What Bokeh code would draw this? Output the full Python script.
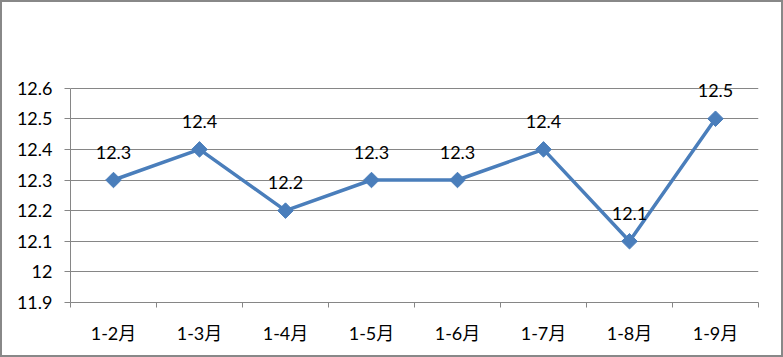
import math
from bokeh.plotting import figure
from bokeh.models import ColumnDataSource, FixedTicker, Range1d
from bokeh.core.properties import value
from bokeh.embed import file_html
from bokeh.resources import INLINE

categories = ["1-2月", "1-3月", "1-4月", "1-5月", "1-6月", "1-7月", "1-8月", "1-9月"]
values = [12.3, 12.4, 12.2, 12.3, 12.3, 12.4, 12.1, 12.5]
y_ticks = [11.9, 12.0, 12.1, 12.2, 12.3, 12.4, 12.5, 12.6]

FONT = "Lato, Noto Sans CJK SC"
LINE = "#4a7ebb"
GRID = "#868686"

xs = [i + 0.5 for i in range(len(categories))]
src = ColumnDataSource(dict(x=xs, y=values, label=[str(v) for v in values]))

# extra headroom above the top tick so the data labels are not clipped
p = figure(width=779, height=353, output_backend="svg", toolbar_location=None,
           x_range=Range1d(0, len(categories)), y_range=Range1d(y_ticks[0], 12.7),
           min_border_left=68, min_border_right=23, min_border_top=55, min_border_bottom=53)
p.frame_width = 688
p.frame_height = 245
p.outline_line_color = None
p.background_fill_color = "white"
p.border_fill_color = "white"
p.styles = {"border": "2px solid #888888"}

# x axis: labels at category centres, ticks at category boundaries
p.xaxis.ticker = FixedTicker(ticks=xs, minor_ticks=list(range(len(categories) + 1)))
p.xaxis.major_label_overrides = {x: c for x, c in zip(xs, categories)}
p.xaxis.major_tick_line_color = None
p.xaxis.minor_tick_line_color = GRID
p.xaxis.minor_tick_out = 5
p.xaxis.minor_tick_in = 0
p.xaxis.axis_line_color = GRID
p.xaxis.major_label_text_font = FONT
p.xaxis.major_label_text_font_size = "18px"
p.xaxis.major_label_text_color = "black"
p.xaxis.major_label_standoff = 13
p.xgrid.grid_line_color = None

p.yaxis.ticker = FixedTicker(ticks=y_ticks, minor_ticks=[])
p.yaxis.bounds = (y_ticks[0], y_ticks[-1])
p.yaxis.major_label_overrides = {12: "12"}
p.yaxis.major_tick_line_color = GRID
p.yaxis.major_tick_out = 6
p.yaxis.major_tick_in = 0
p.yaxis.minor_tick_line_color = None
p.yaxis.axis_line_color = GRID
p.yaxis.major_label_text_font = FONT
p.yaxis.major_label_text_font_size = "18px"
p.yaxis.major_label_text_color = "black"
p.yaxis.major_label_standoff = 12
p.ygrid.grid_line_color = GRID
p.ygrid.grid_line_width = 1

p.line("x", "y", source=src, line_color=LINE, line_width=3.5)
p.scatter("x", "y", source=src, marker="square", size=11, angle=math.pi / 4,
          fill_color=LINE, line_color=LINE)
p.text("x", "y", text="label", source=src, y_offset=-28, text_align="center",
       text_baseline="middle", text_font=value("Lato"), text_font_size="18px",
       text_color="black")

open("out.html", "w").write(file_html(p, INLINE))
